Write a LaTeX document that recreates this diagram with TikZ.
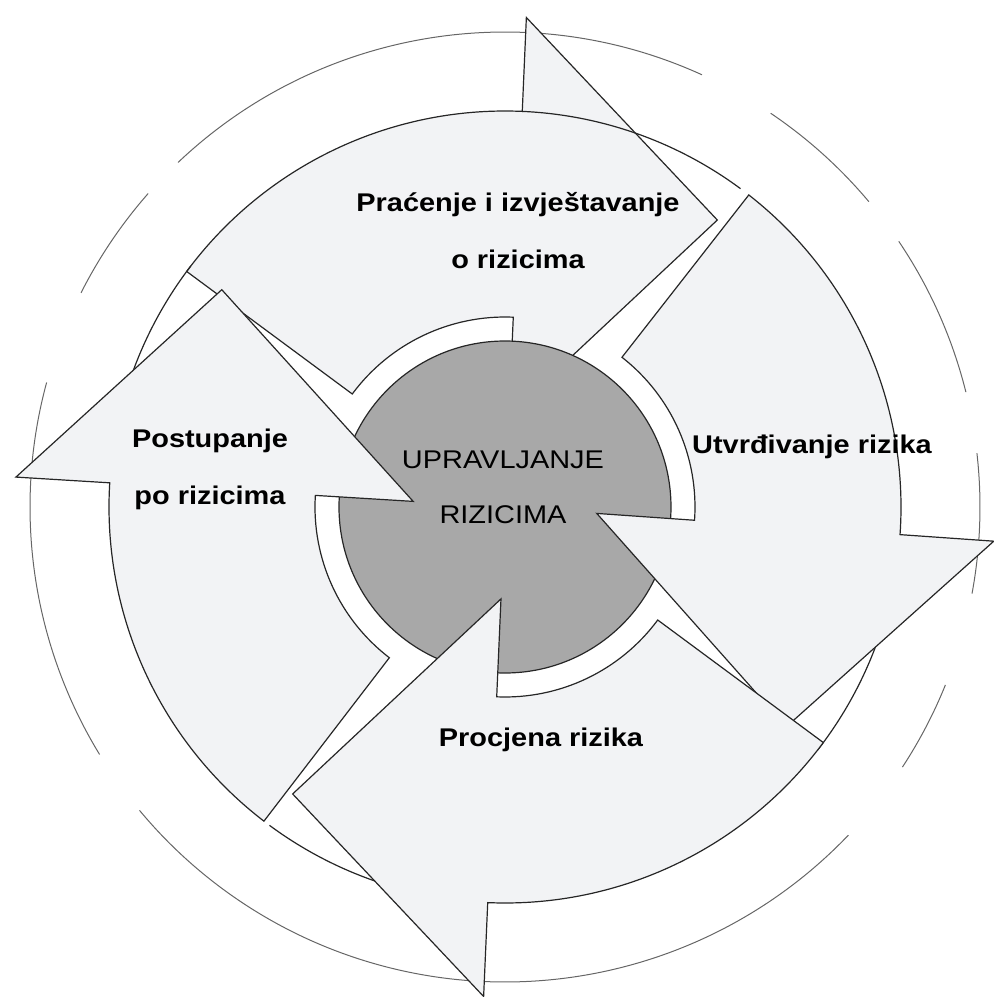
\documentclass[tikz,border=0pt]{standalone}
\usepackage{fontspec}
\setmainfont{Liberation Sans}
\newfontfamily\cyclefont[FakeStretch=1.13]{Liberation Sans}
\definecolor{arrowfill}{RGB}{242,243,245}
\definecolor{hubgray}{RGB}{168,168,168}

\tikzset{
  cyclearrow/.style = {draw=black!85, line width=0.6pt, fill=arrowfill},
  rimline/.style    = {draw=black!85, line width=0.6pt},
  outerrim/.style   = {draw=black!60, line width=0.5pt},
  hub/.style        = {circle, draw=black!85, line width=0.6pt, fill=hubgray,
                       minimum size=166pt, inner sep=0pt},
  steplabel/.style  = {font=\cyclefont\bfseries\fontsize{12.8pt}{28.5pt}\selectfont,
                       align=center, inner sep=0pt},
  hublabel/.style   = {font=\cyclefont\fontsize{12.8pt}{27.5pt}\selectfont,
                       align=center, inner sep=0pt}
}

% one curved arrow of the cycle, #1 = angle of the head base
\newcommand\riskarrow[1]{%
  \pgfmathsetmacro\tailang{#1+56}%
  \pgfmathsetmacro\tipang{#1-34}%
  \draw[cyclearrow] (\tailang:95pt) -- (\tailang:198pt)
    arc[start angle=\tailang, end angle=#1, radius=198pt]
    -- (#1:245pt) -- (\tipang:178.5pt) -- (#1:46pt) -- (#1:95pt)
    arc[start angle=#1, end angle=\tailang, radius=95pt] -- cycle;
}
% outer band edge running on from the head base to the next tail
\newcommand\bandrest[1]{%
  \pgfmathsetmacro\tipang{#1-34}%
  \draw[rimline] (#1:198pt) arc[start angle=#1, end angle=\tipang, radius=198pt];
}

\begin{document}
\begin{tikzpicture}
  \useasboundingbox (-252.5pt,-245pt) rectangle (244pt,253.5pt);
  % broken outer circle
  \foreach \from/\to in {133.5/65.5, 56/40, 34/14, 6.5/-10.5, -22/-33.2,
                         -43.7/-140.3, 211.4/164.8, 153.2/138.7}
    \draw[outerrim] (\from:237.5pt) arc[start angle=\from, end angle=\to, radius=237.5pt];

  % monitoring arrow sits under the hub
  \riskarrow{87.5}
  \bandrest{87.5}
  \node[hub] (hub) at (0,0) {};
  \foreach \b in {-4,267.5,176.5} {\bandrest{\b}\riskarrow{\b}}

  \node[hublabel]  (hubtext)    at (-1pt,10pt)     {UPRAVLJANJE\\RIZICIMA};
  \node[steplabel] (monitoring) at (6.5pt,138pt)   {Praćenje i izvještavanje\\o rizicima};
  \node[steplabel] (identify)   at (153.5pt,30pt)  {Utvrđivanje rizika};
  \node[steplabel] (assess)     at (18pt,-116.5pt) {Procjena rizika};
  \node[steplabel] (treat)      at (-147.5pt,19pt) {Postupanje\\po rizicima};
\end{tikzpicture}
\end{document}
